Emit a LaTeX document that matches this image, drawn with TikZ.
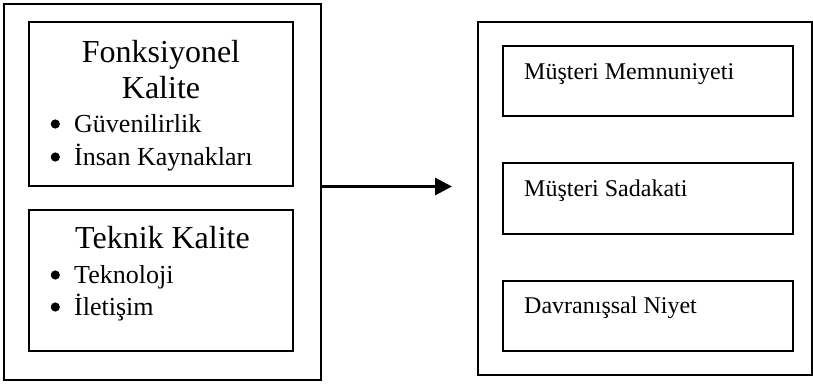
\documentclass[tikz,border=0pt]{standalone}
\usepackage{fontspec}
\setmainfont{Liberation Serif}
\usetikzlibrary{arrows.meta,positioning}

\tikzset{
  frame/.style={draw,line width=1.2pt,rectangle,inner sep=0pt},
  title/.style={inner sep=0pt,anchor=base,font=\fontsize{32}{36}\selectfont},
  item/.style={inner sep=0pt,anchor=base west,font=\fontsize{26}{33}\selectfont},
  label/.style={inner sep=0pt,anchor=base west,font=\fontsize{24}{28}\selectfont}
}
\newcommand{\bul}{\makebox[24.5pt][l]{\hspace{1pt}\tikz[baseline=-8pt]\fill (0,0) circle (4.6pt);}}

\begin{document}
\begin{tikzpicture}[x=1pt,y=-1pt]
        \useasboundingbox (0,0) rectangle (813,383);
        % left side
        \node[frame,minimum width=317pt,minimum height=376pt] (lhs) at (162.5,192) {};
        \node[frame,minimum width=264pt,minimum height=164pt] (fk) at (161,104) {};
        \node[frame,minimum width=264pt,minimum height=141pt] (tk) at (161,280.5) {};
        \node[title] (fkt1) at (161,62) {Fonksiyonel};
        \node[title] (fkt2) at (161,98) {Kalite};
        \node[item] (fki1) at (49.5,132) {\bul Güvenilirlik};
        \node[item] (fki2) at (49.5,165) {\bul İnsan Kaynakları};
        \node[title] (tkt) at (162.5,248) {Teknik Kalite};
        \node[item] (tki1) at (49.5,283) {\bul Teknoloji};
        \node[item] (tki2) at (49.5,315) {\bul İletişim};
        % right side
        \node[frame,minimum width=334pt,minimum height=353pt] (rhs) at (645,198.5) {};
        \node[frame,minimum width=290pt,minimum height=70pt] (mm) at (648,81) {};
        \node[frame,minimum width=290pt,minimum height=71pt] (ms) at (648,198.5) {};
        \node[frame,minimum width=290pt,minimum height=70pt] (dn) at (648,316) {};
        \node[label] (mmt) at (524,79) {Müşteri Memnuniyeti};
        \node[label] (mst) at (524,196) {Müşteri Sadakati};
        \node[label] (dnt) at (524,313) {Davranışsal Niyet};
        % arrow
        \coordinate (tip) at (452,186.5);
        \draw[line width=3pt,-{Triangle[length=17pt,width=17pt]}] (lhs.east |- tip) -- (tip);
    \end{tikzpicture}
\end{document}
